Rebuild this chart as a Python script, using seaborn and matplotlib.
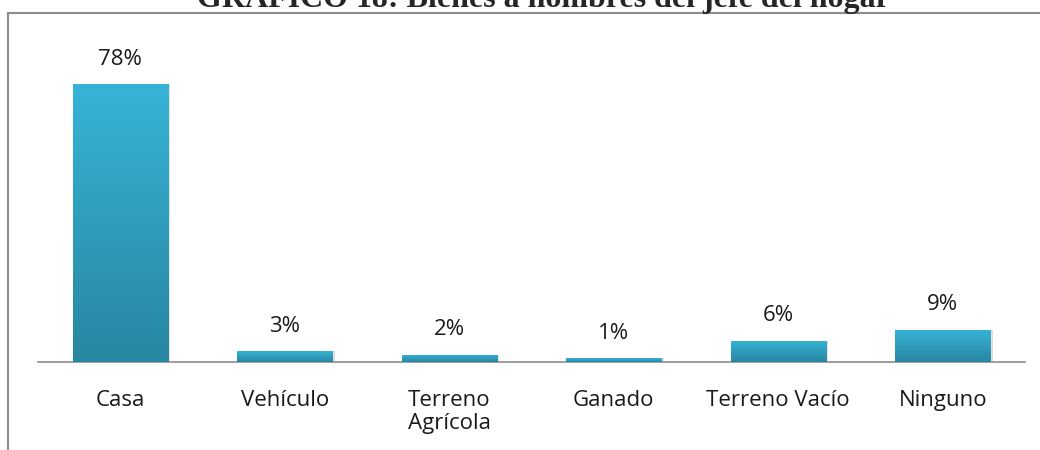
import matplotlib
matplotlib.use("Agg")
import matplotlib.pyplot as plt
import numpy as np
import pandas as pd
import seaborn as sns
from matplotlib.patches import Rectangle

categorias = ["Casa", "Vehículo", "Terreno\nAgrícola", "Ganado", "Terreno Vacío", "Ninguno"]
porcentajes = [78, 3, 2, 1, 6, 9]
titulo = "GRAFICO 18: Bienes a nombres del jefe del hogar"

df = pd.DataFrame({"bien": categorias, "pct": porcentajes})

sns.set_style("white")
plt.rcParams["font.family"] = ["Open Sans", "DejaVu Sans"]

fig = plt.figure(figsize=(10.4, 4.5), dpi=100)
ax = fig.add_axes([38 / 1040, 88 / 450, 987 / 1040, 285 / 450])

sns.barplot(data=df, x="bien", y="pct", color="#33a8c8", width=0.58,
            saturation=1, ax=ax, zorder=2)

# degradado vertical en cada barra
grad = np.linspace(0, 1, 256).reshape(-1, 1)
cmap = matplotlib.colors.LinearSegmentedColormap.from_list("g", ["#2787a1", "#38b3d7"])
for p in ax.patches:
    x0, w, h = p.get_x(), p.get_width(), p.get_height()
    # sombra
    ax.add_patch(Rectangle((x0 + 0.015, 0), w, h, color="#bbbbbb", alpha=0.5,
                           zorder=1, lw=0))
    im = ax.imshow(grad, extent=[x0, x0 + w, 0, h], origin="lower", cmap=cmap,
                   aspect="auto", zorder=3)
    im.set_clip_path(p)
    ax.annotate(f"{int(round(h))}%", (x0 + w / 2, h), xytext=(0, 18),
                textcoords="offset points", ha="center", va="center",
                fontsize=16, color="#1a1a1a")

ax.set_xlim(-0.5, len(categorias) - 0.5)
ax.set_ylim(0, 80)
ax.set_xlabel("")
ax.set_ylabel("")
ax.set_yticks([])
ax.tick_params(axis="x", length=0, pad=20, labelsize=16, labelcolor="#1a1a1a")
for lab in ax.get_xticklabels():
    lab.set_verticalalignment("top")
    lab.set_linespacing(1.15)
for s in ["top", "left", "right"]:
    ax.spines[s].set_visible(False)
ax.spines["bottom"].set_color("#8c8c8c")
ax.spines["bottom"].set_linewidth(1.2)

# marco del grafico
fig.add_artist(Rectangle((8 / 1040, -0.1), 1.2, (450 - 13) / 450 + 0.1,
                         transform=fig.transFigure, fill=False,
                         edgecolor="#8c8c8c", lw=1.5))

fig.text(543 / 1040, 1 - 7 / 450, titulo, ha="center", va="baseline",
         fontsize=23, fontweight="bold", family=["Liberation Serif", "DejaVu Serif"])

fig.savefig("out.png", dpi=100)
